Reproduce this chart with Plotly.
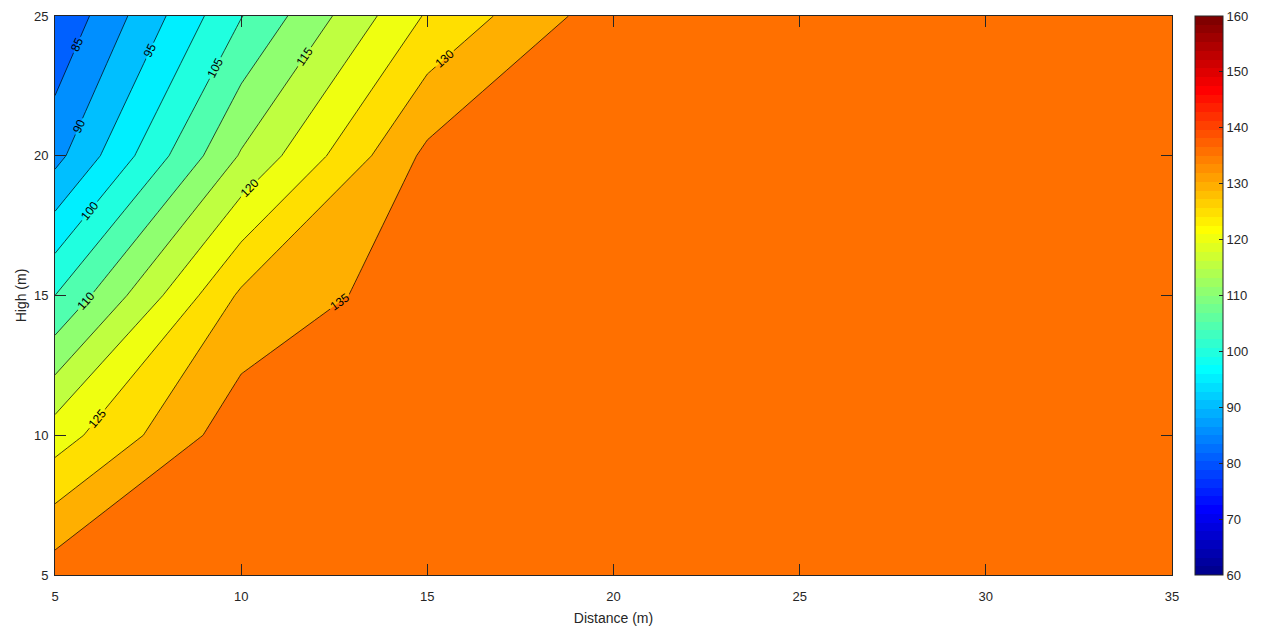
import numpy as np
import plotly.graph_objects as go

# ---- data ----
distance = [5, 10, 15, 20, 25, 30, 35]          # x grid (m)
high = [5, 10, 15, 20, 25]                       # y grid (m)
z_y5 = [137.7, 139.0, 139.3, 139.4, 139.5, 139.5, 139.6]
z_y10 = [122.6, 138.2, 139.0, 139.2, 139.4, 139.5, 139.5]
z_y15 = [105.0, 130.9, 138.0, 138.9, 139.2, 139.3, 139.4]
z_y20 = [88.4, 115.5, 136.2, 138.4, 139.0, 139.2, 139.3]
z_y25 = [80.5, 104.8, 125.6, 138.0, 138.8, 139.1, 139.2]
levels = [85, 90, 95, 100, 105, 110, 115, 120, 125, 130, 135]
cbar_ticks = [60, 70, 80, 90, 100, 110, 120, 130, 140, 150, 160]
clim = (60, 160)

z = np.array([z_y5, z_y10, z_y15, z_y20, z_y25])


# ---- MATLAB-like jet(64) colormap ----
def jet(m=64):
    n = int(np.ceil(m / 4))
    u = [k / n for k in range(1, n + 1)] + [1.0] * (n - 1) + [k / n for k in range(n, 0, -1)]
    g0 = int(np.ceil(n / 2)) - (1 if m % 4 == 1 else 0)
    gi = [g0 + k for k in range(1, len(u) + 1)]
    R, G, B = [0.0] * m, [0.0] * m, [0.0] * m
    for j, idx in enumerate(gi):
        if 1 <= idx <= m:
            G[idx - 1] = u[j]
        if 1 <= idx + n <= m:
            R[idx + n - 1] = u[j]
        if 1 <= idx - n <= m:
            B[idx - n - 1] = u[j]
    return [(R[i], G[i], B[i]) for i in range(m)]


J = jet(64)


def rgb(c):
    return "rgb(%d,%d,%d)" % tuple(int(round(v * 255)) for v in c)


def cmap_row(v):
    i = int(np.floor((v - clim[0]) / (clim[1] - clim[0]) * 64))
    return min(max(i, 0), 63)


band_colors = [rgb(J[cmap_row(float(z.min()))])] + [rgb(J[cmap_row(L)]) for L in levels]
nb = len(band_colors) - 1
contour_scale = [[k / nb, c] for k, c in enumerate(band_colors)]

step_scale = []
for i, c in enumerate(J):
    step_scale.append([i / 64, rgb(c)])
    step_scale.append([(i + 1) / 64, rgb(c)])

axis_col = "#262626"
FONT = "Liberation Sans, Arial, Helvetica"

fig = go.Figure()
fig.add_trace(go.Contour(
    x=distance, y=high, z=z,
    autocontour=False,
    contours=dict(start=levels[0], end=levels[-1], size=levels[1] - levels[0],
                  coloring="fill", showlabels=True,
                  labelfont=dict(size=12, color="black", family=FONT)),
    colorscale=contour_scale,
    showscale=False,
    line=dict(color="black", width=0.7, smoothing=0),
    hoverinfo="skip",
))

# separate colorbar showing the full jet(64) map over clim
fig.add_trace(go.Scatter(
    x=[20], y=[15], mode="markers",
    marker=dict(size=0.1, opacity=0, color=[clim[0]], cmin=clim[0], cmax=clim[1],
                colorscale=step_scale, showscale=True,
                colorbar=dict(x=(1195 - 55) / 1117, xanchor="left", xpad=0,
                              y=0.5, yanchor="middle", ypad=0, len=1, lenmode="fraction",
                              thickness=28, thicknessmode="pixels",
                              outlinewidth=1, outlinecolor=axis_col,
                              tickvals=cbar_ticks, ticks="inside", ticklen=4,
                              tickcolor=axis_col,
                              tickfont=dict(size=13, color=axis_col, family=FONT))),
    hoverinfo="skip", showlegend=False,
))

fig.update_layout(
    width=1269, height=627,
    margin=dict(l=55, r=97, t=16, b=52, autoexpand=False),
    paper_bgcolor="white", plot_bgcolor="white",
    font=dict(family=FONT, size=13, color=axis_col),
    showlegend=False,
)
fig.update_xaxes(range=[5, 35], tickvals=[5, 10, 15, 20, 25, 30, 35],
                 ticks="inside", ticklen=11, tickcolor=axis_col, showline=True,
                 linecolor=axis_col, linewidth=1, mirror="ticks", showgrid=False, zeroline=False,
                 ticklabelstandoff=9, tickfont=dict(size=13), automargin=False,
                 title=dict(text="Distance (m)", font=dict(size=14), standoff=10))
fig.update_yaxes(range=[5, 25], tickvals=[5, 10, 15, 20, 25],
                 ticks="inside", ticklen=11, tickcolor=axis_col, showline=True,
                 linecolor=axis_col, linewidth=1, mirror="ticks", showgrid=False, zeroline=False,
                 ticklabelstandoff=3, tickfont=dict(size=13), automargin=False,
                 title=dict(text="High (m)", font=dict(size=14), standoff=4))

fig.write_html("out.html")
